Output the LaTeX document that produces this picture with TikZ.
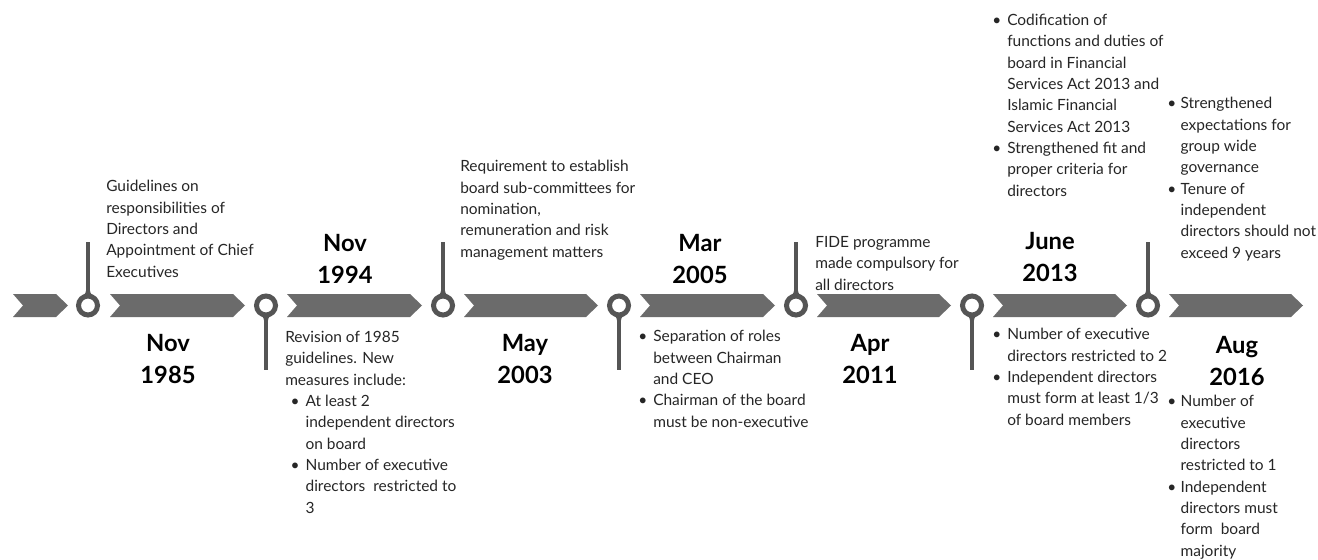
\documentclass[tikz,border=0pt]{standalone}
\usepackage{fontspec}
\setmainfont{Lato}
\definecolor{pingray}{HTML}{555555}
\definecolor{bargray}{HTML}{6B6B6B}
\definecolor{notetext}{HTML}{262626}
\tikzset{
  chevron/.style={fill=bargray},
  pin/.style={circle, draw=pingray, line width=3.75pt, minimum size=14.25pt, inner sep=0pt},
  stem/.style={draw=pingray, line width=2.7pt},
  note/.style={anchor=base west, align=left, inner sep=0pt, text=notetext,
    font=\fontsize{11.6}{16}\selectfont},
  datelabel/.style={anchor=base, align=center, inner sep=0pt,
    font=\fontsize{17.8}{24}\selectfont\bfseries}
}
\newcommand{\bul}{\makebox[11.25pt][l]{\textbullet}}
\newcommand{\ind}{\hspace*{11.25pt}}
\newcommand{\nbul}{\makebox[10pt][l]{\textbullet}}
\newcommand{\nind}{\hspace*{10pt}}
\newcommand{\chev}[2]{\fill[chevron] (#1,294) -- (#2-12,294) -- (#2,305.5) -- (#2-12,317) -- (#1,317) -- (#1+10,305.5) -- cycle;}
\newcommand{\neckup}[1]{\fill[pingray] (#1-6,297) .. controls (#1-2,293) .. (#1-1.4,285) -- (#1+1.4,285) .. controls (#1+2,293) .. (#1+6,297) -- cycle;}
\newcommand{\neckdown}[1]{\fill[pingray] (#1-6,314) .. controls (#1-2,318) .. (#1-1.4,326) -- (#1+1.4,326) .. controls (#1+2,318) .. (#1+6,314) -- cycle;}

\begin{document}
\begin{tikzpicture}[x=0.75pt, y=-0.75pt]
  \useasboundingbox (0,0) rectangle (1318,560);

  % timeline band
  \chev{13}{68}
  \chev{110}{245}
  \chev{287}{422}
  \chev{464}{598}
  \chev{640}{775}
  \chev{817}{951}
  \chev{993}{1127}
  \chev{1169}{1303}

  % pins
  \node[pin] (p1) at (88,305.5) {};
  \node[pin] (p2) at (266,305.5) {};
  \node[pin] (p3) at (443,305.5) {};
  \node[pin] (p4) at (619,305.5) {};
  \node[pin] (p5) at (796,305.5) {};
  \node[pin] (p6) at (972,305.5) {};
  \node[pin] (p7) at (1148,305.5) {};

  \coordinate (s1) at (88,242);
  \coordinate (s2) at (266,370);
  \coordinate (s3) at (443,242);
  \coordinate (s4) at (619,370);
  \coordinate (s5) at (796,242);
  \coordinate (s6) at (972,370);
  \coordinate (s7) at (1148,242);

  \draw[stem] (p1.north) -- (s1);
  \draw[stem] (p2.south) -- (s2);
  \draw[stem] (p3.north) -- (s3);
  \draw[stem] (p4.south) -- (s4);
  \draw[stem] (p5.north) -- (s5);
  \draw[stem] (p6.south) -- (s6);
  \draw[stem] (p7.north) -- (s7);
  \neckup{88} \neckdown{266} \neckup{443} \neckdown{619}
  \neckup{796} \neckdown{972} \neckup{1148}

  % dates (base = last line)
  \node[datelabel] (d1) at (168,383) {Nov\\1985};
  \node[datelabel] (d2) at (345,283) {Nov\\1994};
  \node[datelabel] (d3) at (525,383) {May\\2003};
  \node[datelabel] (d4) at (700,283) {Mar\\2005};
  \node[datelabel] (d5) at (870,383) {Apr\\2011};
  \node[datelabel] (d6) at (1050,281) {June\\2013};
  \node[datelabel] (d7) at (1237,385) {Aug\\2016};

  % notes (base = last line)
  \node[note] (n1) at (106,277) {Guidelines on\\responsibilities of\\Directors and\\Appointment of Chief\\Executives};
  \node[note] (n2) at (285,513) {Revision of 1985\\guidelines. New\\measures include:\\
    \hspace*{4pt}\bul At least 2\\\hspace*{4pt}\ind independent directors\\\hspace*{4pt}\ind on board\\
    \hspace*{4pt}\bul Number of executive\\\hspace*{4pt}\ind directors~ restricted to\\\hspace*{4pt}\ind 3};
  \node[note] (n3) at (460,257) {Requirement to establish\\board sub-committees for\\nomination,\\remuneration and risk\\management matters};
  \node[note] (n4) at (638,427) {\bul Separation of roles\\\ind between Chairman\\\ind and CEO\\
    \bul Chairman of the board\\\ind must be non-executive};
  \node[note] (n5) at (815,290) {FIDE programme\\made compulsory for\\all directors};
  \node[note] (n6a) at (992,196) {\bul Codification of\\\ind functions and duties of\\\ind board in Financial\\
    \ind Services Act 2013 and\\\ind Islamic Financial\\\ind Services Act 2013\\
    \bul Strengthened fit and\\\ind proper criteria for\\\ind directors};
  \node[note] (n6b) at (992,425) {\bul Number of executive\\\ind directors restricted to 2\\
    \bul Independent directors\\\ind must form at least 1/3\\\ind of board members};
  \node[note] (n7a) at (1167,258) {\nbul Strengthened\\\nind expectations for\\\nind group wide\\\nind governance\\
    \nbul Tenure of\\\nind independent\\\nind directors should not\\\nind exceed 9 years};
  \node[note] (n7b) at (1167,556) {\nbul Number of\\\nind executive\\\nind directors\\\nind restricted to 1\\
    \nbul Independent\\\nind directors must\\\nind form~ board\\\nind majority};
\end{tikzpicture}
\end{document}
